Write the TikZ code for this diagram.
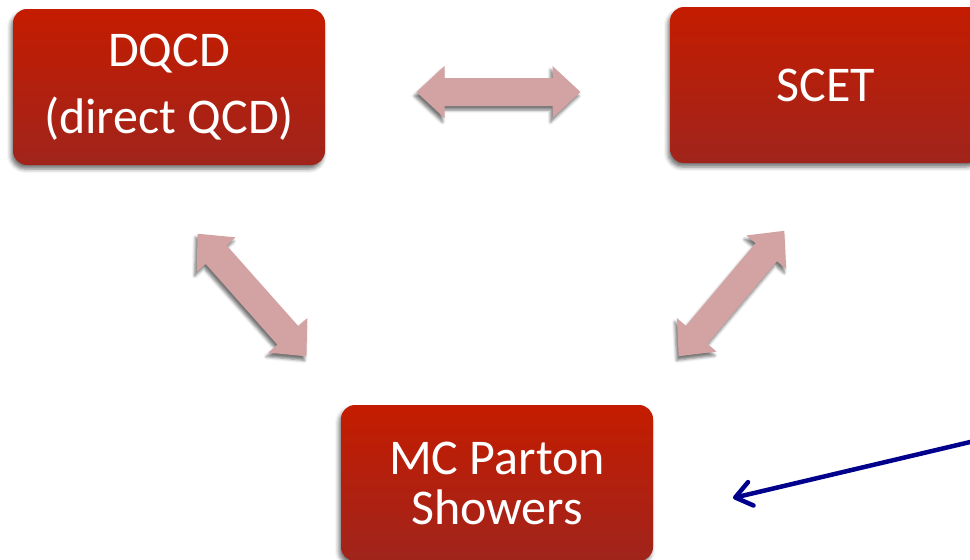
\documentclass[tikz,border=0pt]{standalone}
\usepackage{fontspec}
\setmainfont{Carlito}
\usetikzlibrary{arrows.meta}
\usetikzlibrary{shadows.blur}
\definecolor{boxtop}{RGB}{196,28,0}
\definecolor{boxbottom}{RGB}{160,36,28}
\definecolor{arrowpink}{RGB}{211,163,163}
\definecolor{pointerblue}{RGB}{0,0,140}
\tikzset{biarrow/.pic={
  \fill[arrowdecorate] (-82,0) -- (-54,26) -- (-54,14) -- (54,14) -- (54,26)
    -- (82,0) -- (54,-26) -- (54,-14) -- (-54,-14) -- (-54,-26) -- cycle;}}

\begin{document}
\begin{tikzpicture}
[x=1pt,y=-1pt,
  boxdecorate/.style={shape=rectangle,rounded corners=14pt,inner sep=0pt,
    minimum width=312pt,minimum height=156pt,top color=boxtop,bottom color=boxbottom,
    text=white,align=center,font=\fontsize{50}{50}\selectfont,
    blur shadow={shadow xshift=-2pt,shadow yshift=-4pt,shadow blur radius=4pt,shadow opacity=55}},
  arrowdecorate/.style={fill=arrowpink,
    blur shadow={shadow xshift=-2pt,shadow yshift=-4pt,shadow blur radius=3pt,shadow opacity=55}},
  pointerdecorate/.style={line width=4.5pt,draw=pointerblue,
    -{Straight Barb[length=16pt,width=24pt,round]}}]
\clip (0,0) rectangle (970,560);
%% boxes
\node (dqcd) at (169,87) [boxdecorate] {DQCD\\[17pt](direct QCD)};
\node (scet) at (826,85) [boxdecorate] {SCET};
\node (mc) at (497,483) [boxdecorate] {MC Parton\\Showers};
%% double arrows between the boxes
\foreach \x/\y/\angle in {498.5/92/0, 252/295/-48.4, 731.5/293.5/49.9}
{
  \pic[rotate=\angle] at (\x,\y) {biarrow};
}
%% pointer from the right
\coordinate (pointfrom) at (985,438.5);
\coordinate (pointto) at (733,498);
\draw[pointerdecorate] (pointfrom) -- (pointto);
\end{tikzpicture}
\end{document}
